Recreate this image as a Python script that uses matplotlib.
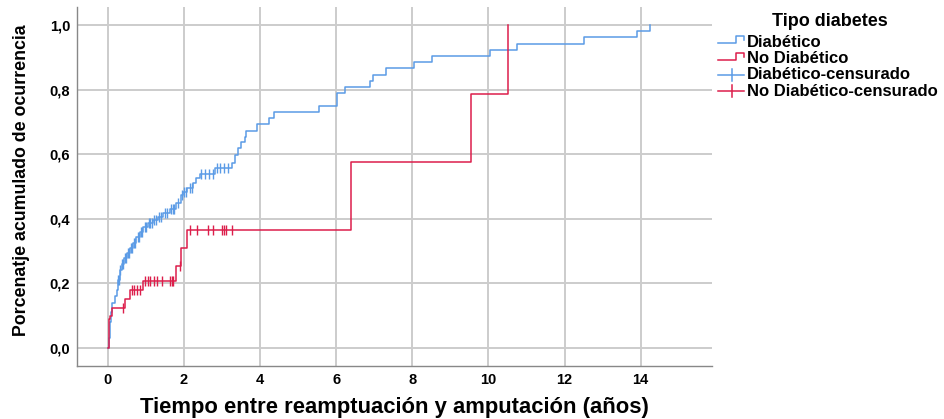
import numpy as np
import matplotlib
matplotlib.use("Agg")
import matplotlib.pyplot as plt
from matplotlib.lines import Line2D
from matplotlib.legend_handler import HandlerBase

# Cumulative incidence steps (time in years, cumulative proportion)
diab_t = [0.0, 0.02, 0.05, 0.08, 0.12, 0.18, 0.23, 0.27, 0.31, 0.36, 0.42, 0.50,
          0.58, 0.66, 0.75, 0.85, 0.93, 1.05, 1.19, 1.32, 1.45, 1.63, 1.80, 1.93,
          1.98, 2.07, 2.24, 2.32, 2.42, 2.81, 3.25, 3.34, 3.42, 3.51, 3.60, 3.64,
          3.91, 4.24, 4.37, 5.55, 6.01, 6.23, 6.88, 6.97, 7.32, 8.05, 8.53, 10.05,
          10.75, 12.50, 13.90, 14.25]
diab_p = [0.0, 0.03, 0.08, 0.11, 0.14, 0.16, 0.18, 0.21, 0.24, 0.26, 0.28, 0.295,
          0.31, 0.325, 0.345, 0.36, 0.376, 0.387, 0.396, 0.406, 0.417, 0.432, 0.448, 0.474,
          0.484, 0.495, 0.51, 0.525, 0.54, 0.556, 0.572, 0.598, 0.618, 0.639, 0.654, 0.672,
          0.693, 0.711, 0.732, 0.750, 0.789, 0.809, 0.828, 0.845, 0.866, 0.887, 0.905, 0.924,
          0.942, 0.962, 0.981, 1.0]

nodiab_t = [0.0, 0.03, 0.06, 0.10, 0.46, 0.58, 0.93, 1.80, 1.93, 2.09, 6.38, 9.53, 10.52]
nodiab_p = [0.0, 0.09, 0.10, 0.125, 0.152, 0.18, 0.208, 0.255, 0.31, 0.365, 0.575, 0.787, 1.0]

# Censored observations
diab_cens = [0.27, 0.29, 0.33, 0.38, 0.40, 0.44, 0.47, 0.52, 0.55, 0.60, 0.63, 0.68,
             0.71, 0.78, 0.82, 0.88, 0.90, 0.97, 1.00, 1.08, 1.12, 1.16, 1.22, 1.27,
             1.35, 1.40, 1.50, 1.55, 1.66, 1.70, 1.75, 1.85, 1.95, 2.00, 2.05, 2.15,
             2.20, 2.44, 2.55, 2.65, 2.76, 2.86, 2.94, 3.05, 3.15]
nodiab_cens = [0.40, 0.63, 0.70, 0.77, 0.84, 0.97, 1.05, 1.12, 1.20, 1.30, 1.41, 1.63,
               1.68, 1.72, 1.89, 2.15, 2.33, 2.64, 2.77, 2.99, 3.05, 3.10, 3.25]

x_ticks = [0, 2, 4, 6, 8, 10, 12, 14]
y_ticks = [0.0, 0.2, 0.4, 0.6, 0.8, 1.0]
y_labels = ["0,0", "0,2", "0,4", "0,6", "0,8", "1,0"]

BLUE = "#5b9be6"
RED = "#dc1e4b"


def step_value(ts, ps, x):
    i = np.searchsorted(ts, x, side="right") - 1
    return np.asarray(ps)[i]


class StepHandler(HandlerBase):
    def create_artists(self, legend, orig_handle, xdescent, ydescent,
                       width, height, fontsize, trans):
        w, h = width, height
        xs = [-xdescent, -xdescent + 0.7 * w, -xdescent + 0.7 * w, -xdescent + w, -xdescent + w]
        ys = [0.3 * h, 0.3 * h, 0.9 * h, 0.9 * h, 0.55 * h]
        line = Line2D(xs, ys, color=orig_handle.get_color(), lw=1.1, transform=trans)
        return [line]


class CensHandler(HandlerBase):
    def create_artists(self, legend, orig_handle, xdescent, ydescent,
                       width, height, fontsize, trans):
        w, h = width, height
        c = orig_handle.get_color()
        hline = Line2D([-xdescent, -xdescent + w], [0.4 * h, 0.4 * h], color=c, lw=1.1,
                       transform=trans)
        vline = Line2D([-xdescent + 0.55 * w] * 2, [-0.1 * h, 0.9 * h], color=c, lw=1.1,
                       transform=trans)
        return [hline, vline]


def main():
    plt.rcParams["font.family"] = ["Liberation Sans", "DejaVu Sans"]
    plt.rcParams["font.weight"] = "bold"

    fig = plt.figure(figsize=(9.44, 4.19), dpi=100)
    ax = fig.add_axes([0.0816, 0.1265, 0.6724, 0.8565])

    ax.set_xlim(-0.81, 15.87)
    ax.set_ylim(-0.056, 1.056)

    ax.set_xticks(x_ticks)
    ax.set_yticks(y_ticks)
    ax.set_yticklabels(y_labels)
    ax.tick_params(length=0, labelsize=10.5, pad=5)
    for lab in ax.get_xticklabels() + ax.get_yticklabels():
        lab.set_fontweight("bold")

    ax.grid(True, color="#cccccc", lw=1.4)
    ax.set_axisbelow(True)
    for side in ("top", "right"):
        ax.spines[side].set_visible(False)
    for side in ("left", "bottom"):
        ax.spines[side].set_color("#888888")
        ax.spines[side].set_linewidth(1.0)

    ax.step(diab_t, diab_p, where="post", color=BLUE, lw=1.1)
    ax.step(nodiab_t, nodiab_p, where="post", color=RED, lw=1.1)

    ax.plot(diab_cens, step_value(diab_t, diab_p, diab_cens), ls="none",
            marker="|", ms=7, mew=1.0, color=BLUE)
    ax.plot(nodiab_cens, step_value(nodiab_t, nodiab_p, nodiab_cens), ls="none",
            marker="|", ms=7, mew=1.0, color=RED)

    ax.set_xlabel("Tiempo entre reamptuación y amputación (años)", fontsize=15.8,
                  fontweight="bold", labelpad=7)
    ax.set_ylabel("Porcenatje acumulado de ocurrencia", fontsize=12.8,
                  fontweight="bold")
    ax.yaxis.set_label_coords(-0.074, 0.518)

    fig.text(0.879, 0.948, "Tipo diabetes", fontsize=13, fontweight="bold",
             ha="center", va="center")

    h1 = Line2D([], [], color=BLUE)
    h2 = Line2D([], [], color=RED)
    h3 = Line2D([], [], color=BLUE)
    h4 = Line2D([], [], color=RED)
    fig.legend([h1, h2, h3, h4],
               ["Diabético", "No Diabético", "Diabético-censurado",
                "No Diabético-censurado"],
               handler_map={h1: StepHandler(), h2: StepHandler(),
                            h3: CensHandler(), h4: CensHandler()},
               loc="upper left", bbox_to_anchor=(0.757, 0.925), frameon=False,
               prop={"size": 12, "weight": "bold"},
               handlelength=1.55, handletextpad=0.2, labelspacing=0.08,
               borderaxespad=0.0, borderpad=0.2)

    fig.savefig("out.png", dpi=100)


main()
